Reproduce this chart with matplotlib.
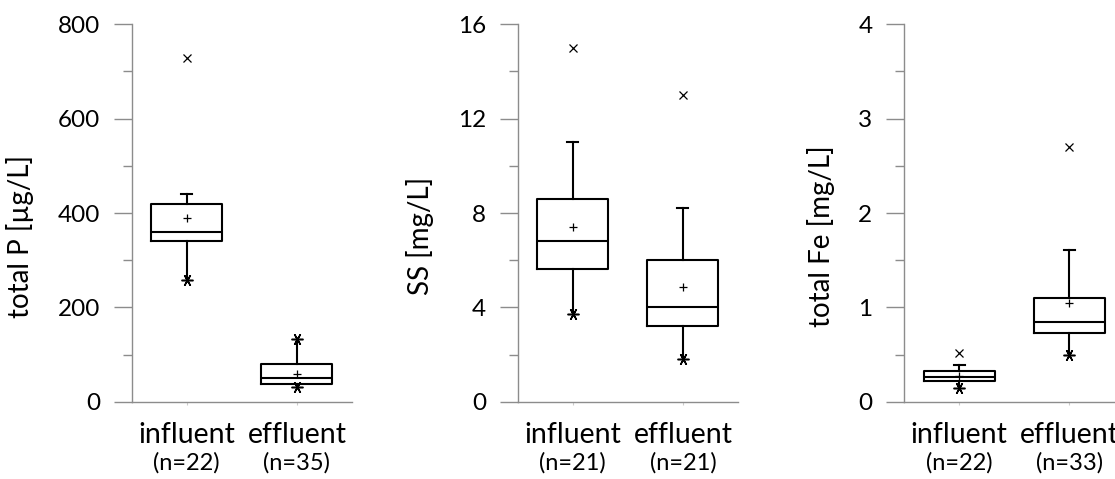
import matplotlib.pyplot as plt

plt.rcParams['font.family'] = ['Lato', 'DejaVu Sans']

# box data: low whisker, Q1, median, Q3, high whisker, mean
groups = ['influent', 'effluent']

p_counts = [22, 35]
p_whislo = [259, 32]
p_q1 = [341, 37.5]
p_med = [360, 51]
p_q3 = [420, 80]
p_whishi = [440, 132]
p_mean = [389, 59]
p_stars = [[259], [132, 32]]
p_crosses = [[729], []]

ss_counts = [21, 21]
ss_whislo = [3.7, 1.82]
ss_q1 = [5.61, 3.22]
ss_med = [6.8, 4.0]
ss_q3 = [8.6, 6.0]
ss_whishi = [11.0, 8.2]
ss_mean = [7.42, 4.88]
ss_stars = [[3.7], [1.82]]
ss_crosses = [[15.0], [13.0]]

fe_counts = [22, 33]
fe_whislo = [0.141, 0.491]
fe_q1 = [0.223, 0.724]
fe_med = [0.265, 0.841]
fe_q3 = [0.325, 1.099]
fe_whishi = [0.389, 1.604]
fe_mean = [0.276, 1.042]
fe_stars = [[0.141], [0.491]]
fe_crosses = [[0.512], [2.703]]

panels = [
    dict(label='total P [µg/L]', ymax=800, step=200, counts=p_counts,
         lo=p_whislo, q1=p_q1, med=p_med, q3=p_q3, hi=p_whishi, mean=p_mean,
         stars=p_stars, crosses=p_crosses, left=131.7),
    dict(label='SS [mg/L]', ymax=16, step=4, counts=ss_counts,
         lo=ss_whislo, q1=ss_q1, med=ss_med, q3=ss_q3, hi=ss_whishi, mean=ss_mean,
         stars=ss_stars, crosses=ss_crosses, left=517.7),
    dict(label='total Fe [mg/L]', ymax=4, step=1, counts=fe_counts,
         lo=fe_whislo, q1=fe_q1, med=fe_med, q3=fe_q3, hi=fe_whishi, mean=fe_mean,
         stars=fe_stars, crosses=fe_crosses, left=904.0),
]

W, H = 1115, 479
fig = plt.figure(figsize=(W / 100, H / 100), dpi=100)
axis_grey = '#8c8c8c'
star = (6, 2, 90)
positions = [0.5, 1.5]

for pn in panels:
    ax = fig.add_axes([pn['left'] / W, (H - 401.7) / H, 220.3 / W, 377.4 / H])
    stats = []
    for i in range(2):
        stats.append(dict(whislo=pn['lo'][i], q1=pn['q1'][i], med=pn['med'][i],
                          q3=pn['q3'][i], whishi=pn['hi'][i], mean=pn['mean'][i],
                          fliers=[]))
    res = ax.bxp(stats, positions=positions, widths=0.645, showmeans=True,
                 showfliers=False, capwidths=0.1,
                 boxprops=dict(color='black', linewidth=1.5),
                 medianprops=dict(color='black', linewidth=1.5),
                 whiskerprops=dict(color='black', linewidth=1.5),
                 capprops=dict(color='black', linewidth=1.5),
                 meanprops=dict(marker='+', markeredgecolor='black',
                                markersize=5.5, markeredgewidth=0.9))
    # hide caps where a star marks the whisker end
    for i in range(2):
        for k, cap in enumerate(res['caps'][2 * i:2 * i + 2]):
            val = pn['lo'][i] if k == 0 else pn['hi'][i]
            if val in pn['stars'][i]:
                cap.set_visible(False)
        xs = [positions[i]] * len(pn['stars'][i])
        ax.plot(xs, pn['stars'][i], linestyle='none', marker=star,
                markersize=8.5, markeredgecolor='black', markeredgewidth=1.1)
        xs = [positions[i]] * len(pn['crosses'][i])
        ax.plot(xs, pn['crosses'][i], linestyle='none', marker='x',
                markersize=6, markeredgecolor='black', markeredgewidth=0.9)

    ax.set_xlim(0, 2)
    ax.set_ylim(0, pn['ymax'])
    ax.set_yticks([pn['step'] * k for k in range(5)])
    ax.set_yticks([pn['step'] * (k + 0.5) for k in range(4)], minor=True)
    ax.set_yticklabels([f'{pn["step"] * k:g}' for k in range(5)], fontsize=17.5)
    ax.set_xticks(positions)
    ax.set_xticklabels([])
    ax.tick_params(axis='y', which='major', length=13.2, width=1, color=axis_grey, pad=9.5)
    ax.tick_params(axis='y', which='minor', length=6.7, width=1, color=axis_grey)
    ax.tick_params(axis='x', length=2, width=0.8, color='#cccccc')
    for s in ['top', 'right']:
        ax.spines[s].set_visible(False)
    for s in ['left', 'bottom']:
        ax.spines[s].set_color(axis_grey)
        ax.spines[s].set_linewidth(1)
    ax.set_ylabel(pn['label'], fontsize=20, labelpad=17)
    ax.yaxis.label.set_y(0.439)

    for i in range(2):
        ax.annotate(groups[i], xy=(positions[i], 0), xycoords=('data', 'axes fraction'),
                    xytext=(0, -29.7), textcoords='offset points',
                    ha='center', va='baseline', fontsize=20.5)
        ax.annotate(f'(n={pn["counts"][i]})', xy=(positions[i], 0),
                    xycoords=('data', 'axes fraction'),
                    xytext=(0, -49), textcoords='offset points',
                    ha='center', va='baseline', fontsize=17)

fig.savefig('out.png', dpi=100)
